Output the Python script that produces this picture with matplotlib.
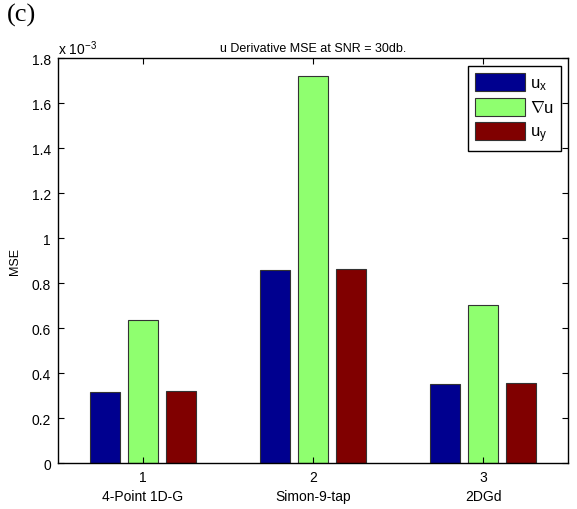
import numpy as np
import matplotlib.pyplot as plt

plt.rcParams['font.family'] = ['Liberation Sans', 'DejaVu Sans']
plt.rcParams['mathtext.fontset'] = 'custom'
plt.rcParams['mathtext.rm'] = 'Liberation Sans'
plt.rcParams['mathtext.it'] = 'Liberation Sans'

# values (units of 1e-3)
methods = ['4-Point 1D-G', 'Simon-9-tap', '2DGd']
series_names = ['u$_x$', r'$\nabla$u', 'u$_y$']
ux = [0.315, 0.859, 0.353]
grad_u = [0.637, 1.721, 0.705]
uy = [0.321, 0.864, 0.359]
colors = ['#00008F', '#8FFF6F', '#800000']

fig = plt.figure(figsize=(5.77, 5.10), dpi=100)
ax = fig.add_axes([0.1005, 0.0896, 0.884, 0.794])

x = np.arange(1, len(methods) + 1)
w = 0.178
for k, (vals, name, c) in enumerate(zip([ux, grad_u, uy], series_names, colors)):
    ax.bar(x + (k - 1) * 0.222, vals, width=w, color=c, edgecolor='#333333',
           linewidth=0.8, label=name)

ax.set_xlim(0.5, 3.5)
ax.set_ylim(0, 1.8)
ax.set_yticks(np.arange(0, 1.81, 0.2))
ax.set_yticklabels(['0', '0.2', '0.4', '0.6', '0.8', '1', '1.2', '1.4', '1.6', '1.8'])
ax.set_xticks(x)
ax.set_xticklabels([f'{i}\n{m}' for i, m in zip(x, methods)], linespacing=1.45)
ax.tick_params(direction='in', top=True, right=True, labelsize=10, length=4, pad=5)
for s in ax.spines.values():
    s.set_linewidth(1.0)

ax.set_ylabel('MSE', fontsize=9, labelpad=8)
ax.set_title('u Derivative MSE at SNR = 30db.', fontsize=9, pad=5)
fig.text(0.101, 0.887, r'x 10$^{-3}$', fontsize=10, va='bottom', ha='left')
fig.text(0.012, 0.948, '(c)', fontsize=19, family='Liberation Serif', va='bottom')

leg = ax.legend(loc='upper right', fontsize=12, handlelength=3.0, handleheight=1.3,
                fancybox=False, edgecolor='black', framealpha=1,
                borderaxespad=0.45, labelspacing=0.35, handletextpad=0.3,
                borderpad=0.4)
leg.get_frame().set_linewidth(1.0)

fig.savefig('out.png', dpi=100)
